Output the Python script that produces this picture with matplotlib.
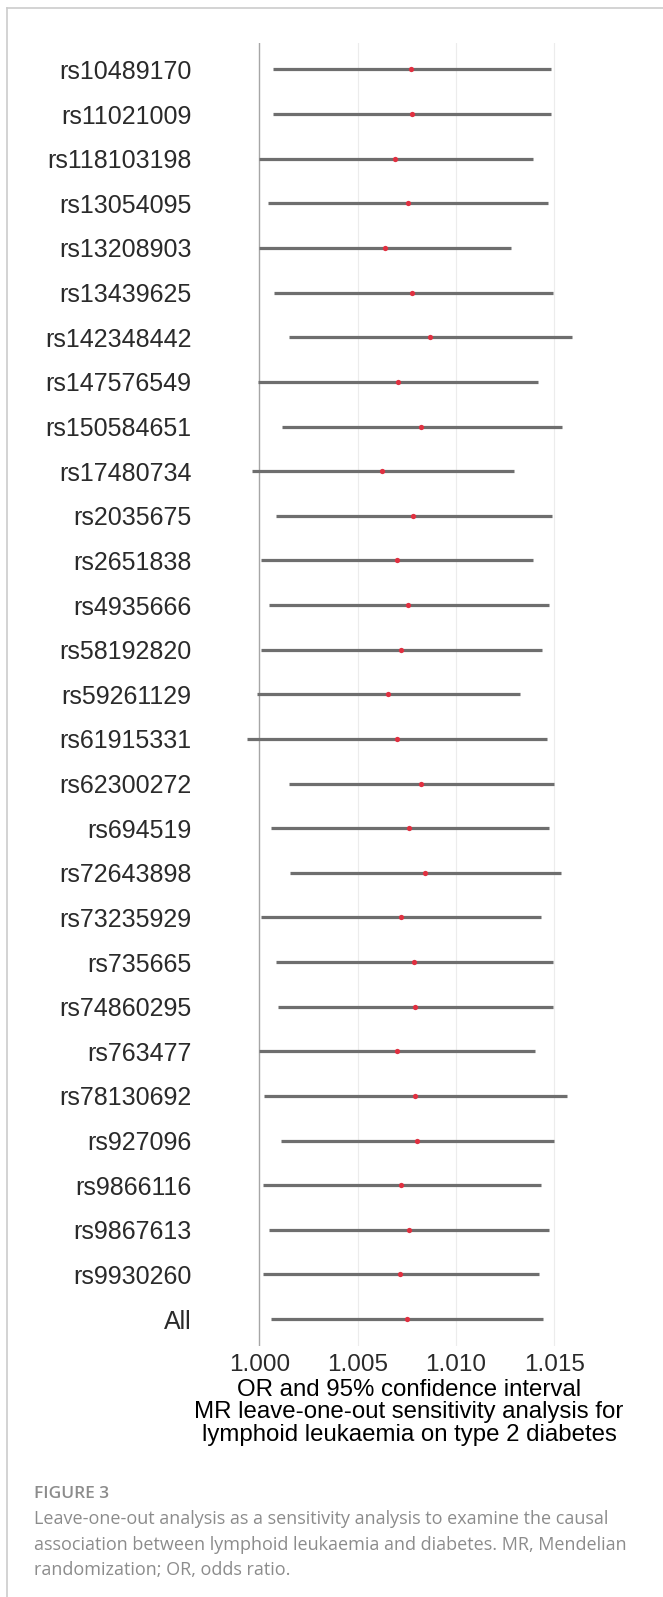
import matplotlib
matplotlib.use("Agg")
import matplotlib.pyplot as plt
from matplotlib.lines import Line2D

# leave-one-out results (OR, lower / upper 95% CI)
snps = ["rs10489170", "rs11021009", "rs118103198", "rs13054095", "rs13208903",
        "rs13439625", "rs142348442", "rs147576549", "rs150584651", "rs17480734",
        "rs2035675", "rs2651838", "rs4935666", "rs58192820", "rs59261129",
        "rs61915331", "rs62300272", "rs694519", "rs72643898", "rs73235929",
        "rs735665", "rs74860295", "rs763477", "rs78130692", "rs927096",
        "rs9866116", "rs9867613", "rs9930260", "All"]
or_est = [1.00773, 1.00775, 1.00692, 1.00755, 1.00641, 1.00778, 1.00868, 1.00704,
          1.00821, 1.00626, 1.00782, 1.00699, 1.00758, 1.00721, 1.00655, 1.00699,
          1.00822, 1.00761, 1.00843, 1.00719, 1.00787, 1.00792, 1.00699, 1.00794,
          1.00804, 1.00722, 1.00760, 1.00716, 1.00750]
ci_low = [1.00068, 1.00071, 0.99998, 1.00046, 0.99998, 1.00075, 1.00153, 0.99995,
          1.00114, 0.99964, 1.00087, 1.00009, 1.00049, 1.00009, 0.99990, 0.99939,
          1.00151, 1.00058, 1.00155, 1.00009, 1.00087, 1.00097, 1.00000, 1.00024,
          1.00109, 1.00020, 1.00051, 1.00017, 1.00061]
ci_high = [1.01482, 1.01482, 1.01391, 1.01470, 1.01280, 1.01492, 1.01589, 1.01419,
           1.01538, 1.01296, 1.01490, 1.01392, 1.01474, 1.01436, 1.01326, 1.01463,
           1.01501, 1.01474, 1.01535, 1.01433, 1.01492, 1.01492, 1.01401, 1.01567,
           1.01499, 1.01431, 1.01475, 1.01423, 1.01441]
x_ticks = [1.000, 1.005, 1.010, 1.015]
x_ticklabels = ["1.000", "1.005", "1.010", "1.015"]

W, H = 663, 1597
fig = plt.figure(figsize=(W / 100, H / 100), dpi=100)
fig.patch.set_facecolor("white")

# panel placed in pixel terms
left, right, top, bottom = 218, 600, 42.7, 1345.9
ax = fig.add_axes([left / W, 1 - bottom / H, (right - left) / W, (bottom - top) / H])

ypos = list(range(1, len(snps) + 1))

for v in x_ticks[1:]:
    ax.axvline(v, color="#ececec", lw=0.8, zorder=0)
ax.axvline(1.0, color="#a6a6a6", lw=1.0, zorder=1)

ax.hlines(ypos, ci_low, ci_high, color="#6e6e6e", lw=2.3, zorder=2)
ax.plot(or_est, ypos, "o", color="#e03040", ms=3.8, mec="none", zorder=3)

ax.set_xlim(0.997899, 1.01733)
ax.set_ylim(len(snps) + 0.6, 0.4)
ax.set_yticks(ypos)
ax.set_yticklabels(snps)
ax.set_xticks(x_ticks)
ax.set_xticklabels(x_ticklabels)
for s in ax.spines.values():
    s.set_visible(False)
ax.tick_params(axis="y", length=0, pad=19, labelsize=18, labelcolor="#2a2a2a")
ax.tick_params(axis="x", length=0, pad=6, labelsize=17.5, labelcolor="#2a2a2a")
for lab in ax.get_xticklabels() + ax.get_yticklabels():
    lab.set_family("Liberation Sans")

ax.set_xlabel("OR and 95% confidence interval\n"
              "MR leave-one-out sensitivity analysis for\n"
              "lymphoid leukaemia on type 2 diabetes",
              fontsize=17.3, family="Liberation Sans", color="black",
              linespacing=1.02, labelpad=2)

# caption
cap_color = "#8c8c8c"
fig.text(34 / W, 1 - 1494 / H, "FIGURE 3", fontsize=12.5, color=cap_color,
         family="Open Sans", weight="semibold", va="center", ha="left")
caption = ["Leave-one-out analysis as a sensitivity analysis to examine the causal",
           "association between lymphoid leukaemia and diabetes. MR, Mendelian",
           "randomization; OR, odds ratio."]
for i, line in enumerate(caption):
    fig.text(34 / W, 1 - (1519.5 + 25.4 * i) / H, line, fontsize=13, color=cap_color,
             family="Open Sans", weight="normal", va="center", ha="left")

# page frame (top and left edges)
fig.add_artist(Line2D([7 / W, 7 / W], [0, 1 - 8 / H], transform=fig.transFigure,
                      color="#cccccc", lw=1.2))
fig.add_artist(Line2D([7 / W, 1], [1 - 8 / H, 1 - 8 / H], transform=fig.transFigure,
                      color="#cccccc", lw=1.2))

fig.savefig("out.png", dpi=100)
